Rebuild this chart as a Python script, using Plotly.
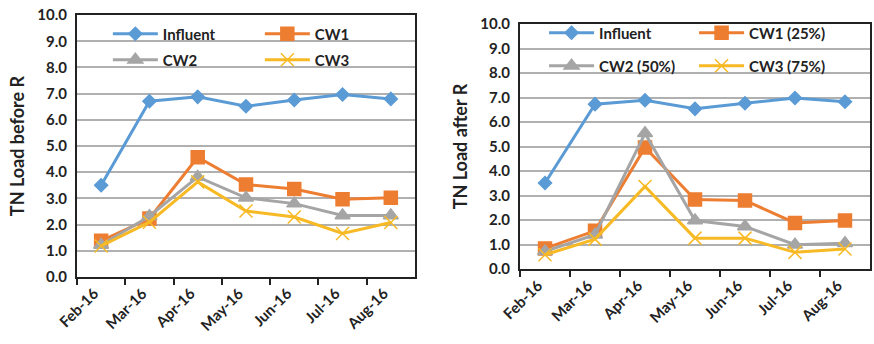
import plotly.graph_objects as go

months = ["Feb-16", "Mar-16", "Apr-16", "May-16", "Jun-16", "Jul-16", "Aug-16"]

# Left chart: TN load before R
before_influent = [3.50, 6.71, 6.88, 6.52, 6.76, 6.97, 6.80]
before_cw1 = [1.38, 2.23, 4.57, 3.53, 3.36, 2.97, 3.02]
before_cw2 = [1.22, 2.32, 3.82, 3.02, 2.80, 2.35, 2.35]
before_cw3 = [1.18, 2.09, 3.63, 2.52, 2.29, 1.66, 2.08]

# Right chart: TN load after R
after_influent = [3.51, 6.73, 6.89, 6.54, 6.77, 6.98, 6.83]
after_cw1 = [0.84, 1.56, 4.96, 2.84, 2.80, 1.88, 1.98]
after_cw2 = [0.72, 1.40, 5.54, 1.98, 1.74, 0.99, 1.05]
after_cw3 = [0.58, 1.22, 3.37, 1.26, 1.26, 0.68, 0.82]

names_left = ["Influent", "CW1", "CW2", "CW3"]
names_right = ["Influent", "CW1 (25%)", "CW2 (50%)", "CW3 (75%)"]

colors = ["#5B9BD5", "#ED7D31", "#A5A5A5", "#F7B924"]
symbols = ["diamond", "square", "triangle-up", "x-thin-open"]
msizes = [10, 13, 13, 13]

FONT = "Lato, 'Open Sans', sans-serif"

fig = go.Figure()

def add_series(ys_list, names, xa, ya, legends):
    for i, (ys, nm) in enumerate(zip(ys_list, names)):
        fig.add_trace(go.Scatter(
            x=months, y=ys, name="<b>" + nm + "</b>", mode="lines+markers",
            line=dict(color=colors[i], width=3),
            marker=dict(symbol=symbols[i], size=msizes[i], color=colors[i],
                        line=dict(color=colors[i], width=1.5)),
            xaxis=xa, yaxis=ya, legend=legends[i // 2],
        ))

add_series([before_influent, before_cw1, before_cw2, before_cw3], names_left, "x", "y",
           ["legend", "legend2"])
add_series([after_influent, after_cw1, after_cw2, after_cw3], names_right, "x2", "y2",
           ["legend3", "legend4"])

TICKFONT = dict(family=FONT, size=15, color="#222")

axis_common_x = dict(
    type="category", showline=True, linecolor="#222", linewidth=2, mirror=True,
    ticks="outside", tickson="boundaries", ticklen=6, tickcolor="#222", tickwidth=1.5,
    tickangle=-45, tickfont=TICKFONT, tickprefix="<b>", ticksuffix="</b>",
    ticklabelshift=-7, automargin=False,
    showgrid=False, range=[-0.5, 6.5],
)
axis_common_y = dict(
    range=[0, 10], dtick=1, tickformat=".1f", showline=True, linecolor="#222",
    linewidth=2, mirror=True, showgrid=True, gridcolor="#B0B0B0", gridwidth=1.5,
    ticks="", tickfont=TICKFONT, tickprefix="<b>", ticksuffix="</b>", zeroline=False,
    ticklabelstandoff=5, automargin=False,
)

def leg(x, ypx, ew):
    return dict(orientation="h", bgcolor="rgba(0,0,0,0)", entrywidth=ew,
                entrywidthmode="pixels", itemwidth=45,
                font=dict(family=FONT, size=15, color="#222"),
                xanchor="left", yanchor="middle", tracegroupgap=0,
                x=x, y=1 - ypx / 344)

fig.update_layout(
    width=874, height=344, margin=dict(l=0, r=0, t=0, b=0, autoexpand=False),
    paper_bgcolor="white", plot_bgcolor="white",
    font=dict(family=FONT, color="#222"),
    xaxis=dict(domain=[0.0881, 0.4748], anchor="y", **axis_common_x),
    yaxis=dict(domain=[0.195, 0.956], anchor="x",
               title=dict(text="<b>TN Load before R</b>", font=dict(family=FONT, size=18), standoff=8),
               **axis_common_y),
    xaxis2=dict(domain=[0.595, 0.9954], anchor="y2", **axis_common_x),
    yaxis2=dict(domain=[0.218, 0.930], anchor="x2",
                title=dict(text="<b>TN Load after R</b>", font=dict(family=FONT, size=18), standoff=8),
                **axis_common_y),
    legend=leg(0.1234, 34, 92),
    legend2=leg(0.1234, 60, 92),
    legend3=leg(0.6225, 33, 90),
    legend4=leg(0.6225, 66, 90),
    showlegend=True,
)

fig.write_html("out.html")
